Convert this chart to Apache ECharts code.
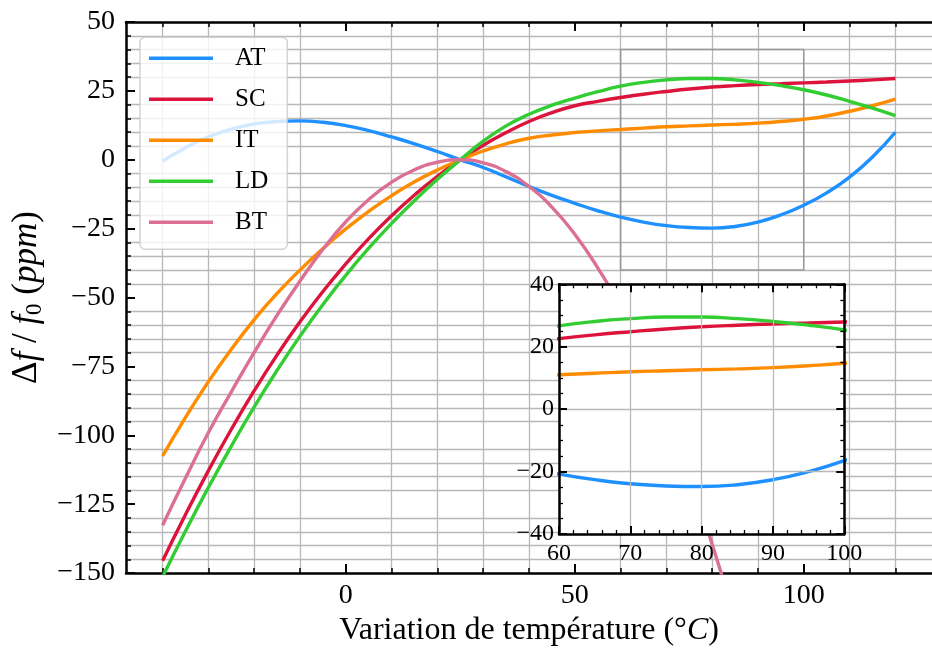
<!DOCTYPE html>
<html><head><meta charset="utf-8">
<script src="https://cdn.jsdelivr.net/npm/echarts@6.0.0/dist/echarts.min.js"></script>
<style>html,body{margin:0;padding:0;background:#fff}#c{width:932px;height:652px}</style>
</head><body><div id="c"></div>
<script>
// ---------------- data ----------------
const temps = [-40,-35,-30,-25,-20,-15,-10,-5,0,5,10,15,20,25,30,35,40,45,50,55,60,65,70,75,80,85,90,95,100,105,110,115,120];
const AT = [-0.5,4.4,8.3,11.1,13,13.9,14.1,13.6,12.4,10.6,8.3,5.8,3,0,-2.8,-6.2,-9.7,-12.9,-15.8,-18.5,-20.8,-22.6,-23.9,-24.6,-24.8,-24.2,-22.6,-20,-16.5,-12,-6.3,1,10];
const SC = [-145.5,-128.7,-112.8,-97.8,-83.8,-70.8,-58.8,-47.8,-37.8,-28.6,-20.3,-12.8,-6,0,5.3,9.9,13.9,17.1,19.6,21.2,22.6,23.8,24.8,25.7,26.4,26.9,27.3,27.6,27.9,28.2,28.6,29,29.5];
const IT = [-107.5,-93.5,-80.5,-68.8,-58,-48.5,-40,-32.2,-25.1,-18.7,-13,-8,-3.7,0,3.2,5.8,7.8,9,9.9,10.5,11,11.5,12,12.3,12.6,12.9,13.3,13.9,14.7,15.9,17.6,19.6,22];
const LD = [-151.3,-134.7,-118.9,-103.9,-89.7,-76.4,-64,-52.5,-41.9,-32.1,-23.1,-14.8,-7.1,0,6.8,12.3,16.5,19.8,22.4,24.7,26.7,28.1,29,29.5,29.5,29,28.1,26.9,25.4,23.5,21.2,18.7,16];
const BT = [-132.6,-115.5,-99,-84.2,-69.9,-56.4,-44,-32.5,-22.5,-14.4,-8.1,-3.6,-0.9,0,-1.1,-4.3,-9.7,-17.2,-27,-39.2,-53.5,-71.5,-91.5,-114,-139.5,-167,-197,null,null,null,null,null,null];
const seriesNames = ['AT','SC','IT','LD','BT'];
const seriesValues = [AT, SC, IT, LD, BT];
const mainXRange = [-48, 128];
const mainYRange = [-150, 50];
const mainXMajor = [0, 50, 100];
const mainXMinor = [-40,-30,-20,-10,10,20,30,40,60,70,80,90,110,120];
const insetXRange = [60, 100];
const insetYRange = [-40, 40];
const xTitle = 'Variation de température (°{i|C})';
const yTitle = 'Δ{i|f} / {i|f}{sub|0} ({i|ppm})';

// ---------------- style ----------------
const colors = ['#1E90FF','#DC143C','#FF8C00','#32CD32','#DB7093'];
const FONT = 'Liberation Serif';
const GRID = '#b8b8b8';
const LW = 3.4;
const minus = v => String(v).replace('-', '\u2212');

const chart = echarts.init(document.getElementById('c'), null, {renderer: 'canvas'});

function pts(vals){ return temps.map((t,i)=>[t, vals[i]]); }

const series = [];
seriesNames.forEach((n,i)=>{
  const s = {
    name: n, type: 'line', xAxisIndex: 0, yAxisIndex: 0,
    data: pts(seriesValues[i]), smooth: 0.5, symbol: 'none',
    lineStyle: {color: colors[i], width: LW}, itemStyle: {color: colors[i]},
    z: 2, animation: false
  };
  if (i === 0) {
    s.markArea = {
      silent: true,
      itemStyle: {color: 'rgba(0,0,0,0)', borderColor: '#999999', borderWidth: 1.6},
      data: [[{coord: [insetXRange[0], insetYRange[1]]}, {coord: [insetXRange[1], insetYRange[0]]}]]
    };
  }
  series.push(s);
});
seriesNames.forEach((n,i)=>{
  series.push({
    name: n, type: 'line', xAxisIndex: 4, yAxisIndex: 1,
    data: pts(seriesValues[i]), smooth: 0.5, symbol: 'none',
    lineStyle: {color: colors[i], width: LW}, itemStyle: {color: colors[i]},
    z: 6, animation: false
  });
});

const axLine = {show: true, onZero: false, lineStyle: {color: '#000', width: 2.5}};
const noLine = {show: false, onZero: false};
const majTick = (vals, len) => ({show: true, inside: true, length: len, lineStyle: {color: '#000', width: 2}, customValues: vals});
const minTick = (vals) => ({show: true, inside: true, length: 5, lineStyle: {color: '#000', width: 1.5}, customValues: vals});

const option = {
  animation: false,
  backgroundColor: '#fff',
  grid: [
    {left: 125.2, top: 22, width: 815.2, height: 554.6, containLabel: false},
    {left: 559, top: 284.3, width: 285.3, height: 249.7, show: true, backgroundColor: '#fff', borderWidth: 0, z: 5}
  ],
  legend: {
    data: seriesNames, orient: 'vertical', left: 140, top: 37.3,
    icon: 'rect', itemWidth: 64, itemHeight: 3.4, itemGap: 12,
    padding: [6.5, 19, 12.5, 9],
    backgroundColor: 'rgba(255,255,255,0.8)', borderColor: 'rgba(200,200,200,0.8)', borderWidth: 1.5, borderRadius: 5,
    textStyle: {fontFamily: FONT, fontSize: 25, color: '#000', lineHeight: 24, padding: [5,0,0,17]},
    selectedMode: false
  },
  xAxis: [
    { // 0 main bottom, major
      gridIndex: 0, type: 'value', position: 'bottom', min: mainXRange[0], max: mainXRange[1],
      axisLine: axLine, axisTick: majTick(mainXMajor, 9),
      axisLabel: {customValues: mainXMajor, fontFamily: FONT, fontSize: 28, color: '#000', margin: 9},
      splitLine: {show: false},
      name: xTitle, nameLocation: 'middle', nameGap: 41,
      nameTextStyle: {fontFamily: FONT, fontSize: 32, color: '#000',
        rich: {i: {fontFamily: FONT, fontSize: 32, fontStyle: 'italic', color: '#000'}}}
    },
    { // 1 main bottom, minor + grid
      gridIndex: 0, type: 'value', position: 'bottom', min: mainXRange[0], max: mainXRange[1],
      axisLine: noLine, axisTick: minTick(mainXMinor),
      axisLabel: {show: false},
      splitLine: {show: true, lineStyle: {color: GRID, width: 1.3}}
    },
    { // 2 main top major
      gridIndex: 0, type: 'value', position: 'top', min: mainXRange[0], max: mainXRange[1],
      axisLine: axLine, axisTick: majTick(mainXMajor, 9),
      axisLabel: {show: false}, splitLine: {show: false}
    },
    { // 3 main top minor
      gridIndex: 0, type: 'value', position: 'top', min: mainXRange[0], max: mainXRange[1],
      axisLine: noLine, axisTick: minTick(mainXMinor),
      axisLabel: {show: false}, splitLine: {show: false}
    },
    { // 4 inset bottom
      gridIndex: 1, type: 'value', position: 'bottom', min: insetXRange[0], max: insetXRange[1], interval: 10,
      axisLine: axLine, axisTick: {show: true, inside: true, length: 8, lineStyle: {color: '#000', width: 2}},
      minorTick: {show: true, splitNumber: 5, length: 4, lineStyle: {color: '#000', width: 1.3}},
      axisLabel: {fontFamily: FONT, fontSize: 24, color: '#000', margin: 8},
      splitLine: {show: true, lineStyle: {color: GRID, width: 1.3}}, z: 7
    },
    { // 5 inset top
      gridIndex: 1, type: 'value', position: 'top', min: insetXRange[0], max: insetXRange[1], interval: 10,
      axisLine: axLine, axisTick: {show: true, inside: true, length: 8, lineStyle: {color: '#000', width: 2}},
      minorTick: {show: true, splitNumber: 5, length: 4, lineStyle: {color: '#000', width: 1.3}},
      axisLabel: {show: false}, splitLine: {show: false}, z: 7
    }
  ],
  yAxis: [
    { // 0 main left
      gridIndex: 0, type: 'value', position: 'left', min: mainYRange[0], max: mainYRange[1], interval: 25,
      axisLine: axLine, axisTick: {show: true, inside: true, length: 9, lineStyle: {color: '#000', width: 2}},
      minorTick: {show: true, splitNumber: 5, length: 5, lineStyle: {color: '#000', width: 1.5}},
      axisLabel: {fontFamily: FONT, fontSize: 28, color: '#000', margin: 11, formatter: minus},
      splitLine: {show: false},
      minorSplitLine: {show: true, lineStyle: {color: GRID, width: 1.3}},
      name: yTitle, nameLocation: 'middle', nameGap: 80,
      nameTextStyle: {fontFamily: FONT, fontSize: 35, color: '#000', lineHeight: 38,
        rich: {
          i: {fontFamily: FONT, fontSize: 35, fontStyle: 'italic', color: '#000', lineHeight: 38},
          sub: {fontFamily: FONT, fontSize: 23, color: '#000', lineHeight: 24, verticalAlign: 'bottom'}
        }}
    },
    { // 1 inset left
      gridIndex: 1, type: 'value', position: 'left', min: insetYRange[0], max: insetYRange[1], interval: 20,
      axisLine: axLine, axisTick: {show: true, inside: true, length: 8, lineStyle: {color: '#000', width: 2}},
      minorTick: {show: true, splitNumber: 4, length: 4, lineStyle: {color: '#000', width: 1.3}},
      axisLabel: {fontFamily: FONT, fontSize: 24, color: '#000', margin: 5, formatter: minus},
      splitLine: {show: true, lineStyle: {color: GRID, width: 1.3}}, z: 7
    },
    { // 2 inset right
      gridIndex: 1, type: 'value', position: 'right', min: insetYRange[0], max: insetYRange[1], interval: 20,
      axisLine: axLine, axisTick: {show: true, inside: true, length: 8, lineStyle: {color: '#000', width: 2}},
      minorTick: {show: true, splitNumber: 4, length: 4, lineStyle: {color: '#000', width: 1.3}},
      axisLabel: {show: false}, splitLine: {show: false}, z: 7
    }
  ],
  series: series
};
chart.setOption(option);
</script>
</body></html>
